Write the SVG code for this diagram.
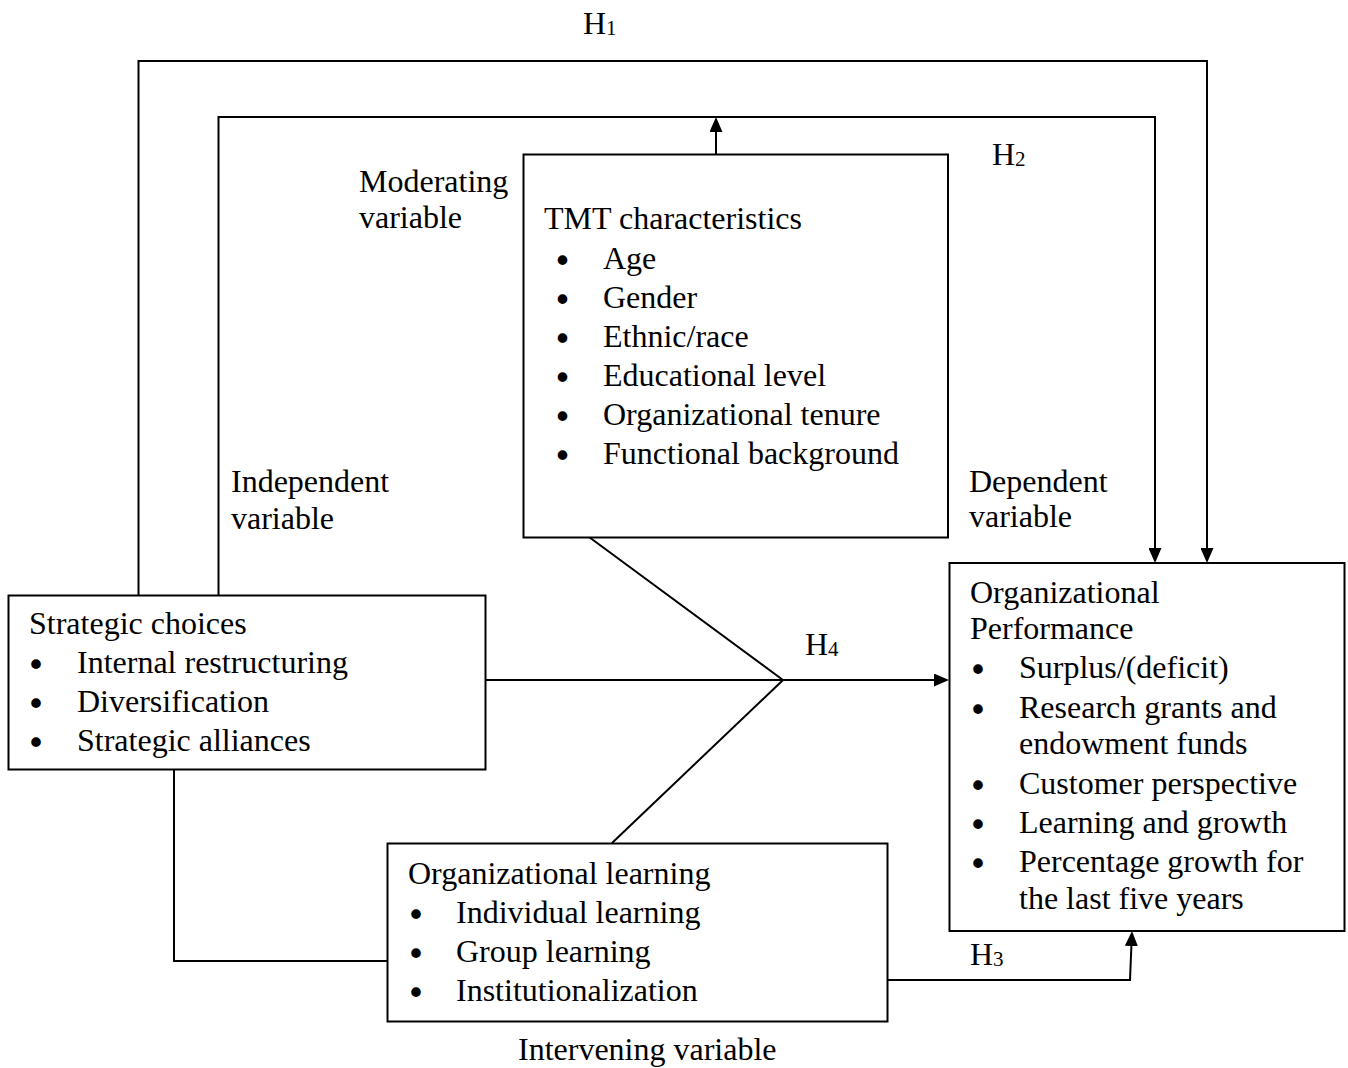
<svg xmlns="http://www.w3.org/2000/svg" width="1348" height="1068" viewBox="0 0 1348 1068">
<style>
text{font-family:"Liberation Serif","Times New Roman",serif;font-size:32px;fill:#000}
.bul{font-family:"DejaVu Sans",sans-serif;font-size:33px;text-anchor:middle}
.sub{font-size:21px}
.box{fill:#fff;stroke:#000;stroke-width:2}
.ln{fill:none;stroke:#000;stroke-width:2}
</style>
<defs>
<marker id="ah" markerUnits="userSpaceOnUse" markerWidth="15" markerHeight="13" refX="5" refY="6.5" orient="auto">
<path d="M0,0 L15,6.5 L0,13 z" fill="#000"/>
</marker>
</defs>
<rect width="1348" height="1068" fill="#fff"/>
<g id="connectors">
<path class="ln" d="M138.5,595 V61 H1207 V553" marker-end="url(#ah)"/>
<path class="ln" d="M218.5,595 V117 H1155 V553" marker-end="url(#ah)"/>
<path class="ln" d="M716,154 V127" marker-end="url(#ah)"/>
<path class="ln" d="M486,680 H939" marker-end="url(#ah)"/>
<path class="ln" d="M589,537 L783,680 L612,843"/>
<path class="ln" d="M174,770 V961 H387"/>
<path class="ln" d="M888,980 H1130 L1131.6,941" marker-end="url(#ah)"/>
</g>
<g id="strategic-choices">
<rect class="box" x="8.5" y="595.5" width="477" height="174"/>
<text x="29" y="634">Strategic choices</text>
<text class="bul" x="36" y="677">•</text><text x="77" y="673">Internal restructuring</text>
<text class="bul" x="36" y="716">•</text><text x="77" y="712">Diversification</text>
<text class="bul" x="36" y="755">•</text><text x="77" y="751">Strategic alliances</text>
</g>
<g id="tmt-characteristics">
<rect class="box" x="523.5" y="154.5" width="424.5" height="383"/>
<text x="544" y="229">TMT characteristics</text>
<text class="bul" x="562.5" y="273">•</text><text x="603" y="269">Age</text>
<text class="bul" x="562.5" y="312">•</text><text x="603" y="308">Gender</text>
<text class="bul" x="562.5" y="351">•</text><text x="603" y="347">Ethnic/race</text>
<text class="bul" x="562.5" y="390">•</text><text x="603" y="386">Educational level</text>
<text class="bul" x="562.5" y="429">•</text><text x="603" y="425">Organizational tenure</text>
<text class="bul" x="562.5" y="468">•</text><text x="603" y="464">Functional background</text>
</g>
<g id="organizational-learning">
<rect class="box" x="387.5" y="843.5" width="500" height="178"/>
<text x="408" y="884">Organizational learning</text>
<text class="bul" x="416" y="927">•</text><text x="456" y="923">Individual learning</text>
<text class="bul" x="416" y="966">•</text><text x="456" y="962">Group learning</text>
<text class="bul" x="416" y="1005">•</text><text x="456" y="1001">Institutionalization</text>
</g>
<g id="organizational-performance">
<rect class="box" x="949.5" y="563" width="395" height="368"/>
<text x="970" y="603">Organizational</text>
<text x="970" y="639">Performance</text>
<text class="bul" x="978" y="682">•</text><text x="1019" y="678">Surplus/(deficit)</text>
<text class="bul" x="978" y="722">•</text><text x="1019" y="718">Research grants and</text>
<text x="1019" y="754">endowment funds</text>
<text class="bul" x="978" y="798">•</text><text x="1019" y="794">Customer perspective</text>
<text class="bul" x="978" y="837">•</text><text x="1019" y="833">Learning and growth</text>
<text class="bul" x="978" y="876">•</text><text x="1019" y="872">Percentage growth for</text>
<text x="1019" y="909">the last five years</text>
</g>
<g id="labels">
<text x="583" y="34">H<tspan class="sub" dy="1">1</tspan></text>
<text x="992" y="165">H<tspan class="sub" dy="1">2</tspan></text>
<text x="805" y="655">H<tspan class="sub" dy="1">4</tspan></text>
<text x="970" y="965">H<tspan class="sub" dy="1">3</tspan></text>
<text x="359" y="192">Moderating</text>
<text x="359" y="228">variable</text>
<text x="231" y="492">Independent</text>
<text x="231" y="529">variable</text>
<text x="969" y="492">Dependent</text>
<text x="969" y="527">variable</text>
<text x="518" y="1060">Intervening variable</text>
</g>
</svg>
